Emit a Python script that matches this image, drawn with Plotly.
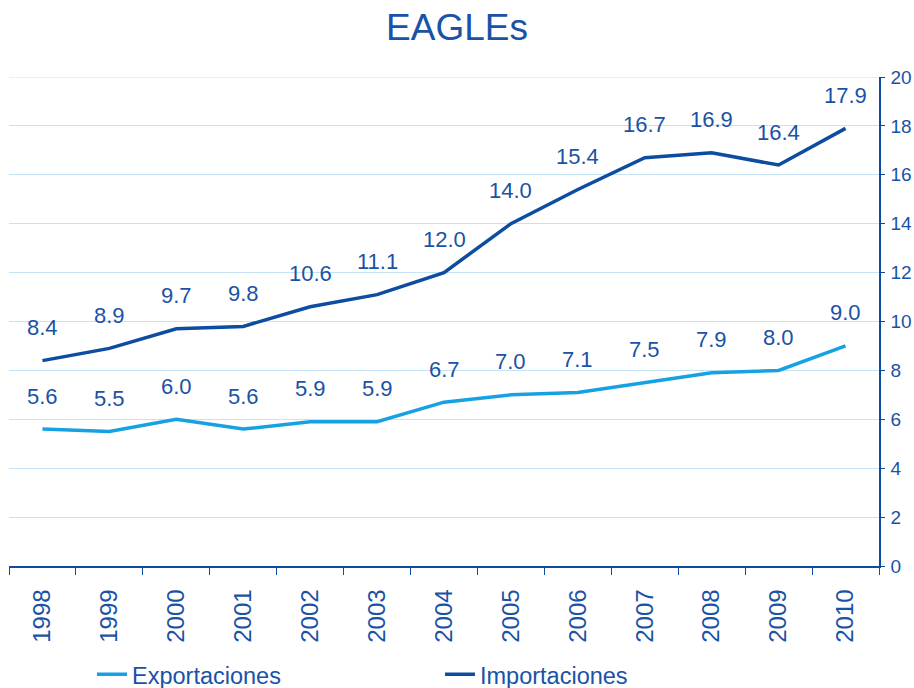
import plotly.graph_objects as go

years = ["1998", "1999", "2000", "2001", "2002", "2003", "2004",
         "2005", "2006", "2007", "2008", "2009", "2010"]
exportaciones = [5.6, 5.5, 6.0, 5.6, 5.9, 5.9, 6.7, 7.0, 7.1, 7.5, 7.9, 8.0, 9.0]
importaciones = [8.4, 8.9, 9.7, 9.8, 10.6, 11.1, 12.0, 14.0, 15.4, 16.7, 16.9, 16.4, 17.9]
y_ticks = [0, 2, 4, 6, 8, 10, 12, 14, 16, 18, 20]

DARK = "#0D4DA1"
LIGHT = "#16A2E2"
TEXT = "#1A52A5"
GRID = "#C4E4F6"
FONT = "Liberation Sans, Arial, sans-serif"

fig = go.Figure()
fig.add_trace(go.Scatter(x=years, y=exportaciones, mode="lines", name="Exportaciones",
                         line=dict(color=LIGHT, width=3.5)))
fig.add_trace(go.Scatter(x=years, y=importaciones, mode="lines", name="Importaciones",
                         line=dict(color=DARK, width=3.5)))

# top gridline (plotly drops the gridline lying on the range edge)
fig.add_hline(y=y_ticks[-1], line=dict(color=GRID, width=1), layer="below")

for series in (exportaciones, importaciones):
    for i, v in enumerate(series):
        fig.add_annotation(x=i, y=v, xref="x", yref="y", text=f"{v:.1f}",
                           showarrow=False, yshift=33,
                           font=dict(family=FONT, size=22, color=TEXT))

fig.update_layout(
    width=914, height=688,
    margin=dict(l=9, r=35, t=77, b=122, autoexpand=False),
    paper_bgcolor="white", plot_bgcolor="white",
    font=dict(family=FONT, color=TEXT),
    title=dict(text="EAGLEs", x=0.5, xanchor="center", y=1 - 27 / 688, yanchor="middle",
               font=dict(family=FONT, size=37, color=TEXT)),
    showlegend=True,
    legend=dict(orientation="h", x=(92 - 9) / 870, xanchor="left",
                y=-0.222, yanchor="middle",
                entrywidth=303, entrywidthmode="pixels",
                font=dict(family=FONT, size=23.5, color=TEXT),
                bgcolor="rgba(0,0,0,0)"),
    xaxis=dict(type="category", range=[-0.5, 12.5], tickson="boundaries",
               ticks="outside", ticklen=7, tickcolor=DARK, tickwidth=1,
               showline=True, linecolor=DARK, linewidth=1.5,
               showgrid=False, zeroline=False, automargin=False,
               ticklabelstandoff=12,
               tickangle=-90, tickfont=dict(family=FONT, size=24, color=TEXT)),
    yaxis=dict(side="right", range=[y_ticks[0], y_ticks[-1]], tickvals=y_ticks,
               tickformat="d",
               ticks="outside", ticklen=4, tickcolor=DARK,
               showline=True, linecolor=DARK, linewidth=1.5,
               showgrid=True, gridcolor=GRID, gridwidth=1, zeroline=False,
               automargin=False, ticklabelstandoff=2,
               tickfont=dict(family=FONT, size=19, color=TEXT)),
)

fig.write_html("out.html",
               config={"displayModeBar": False},
               post_script="document.body.style.margin='0';"
                           "document.body.style.overflow='hidden';")
